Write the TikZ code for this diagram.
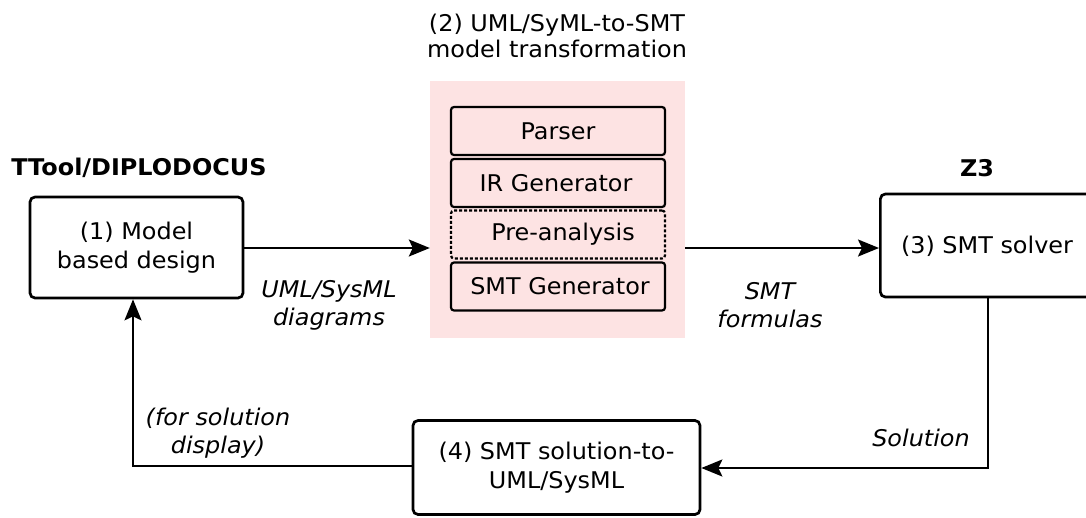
\documentclass[tikz,border=0pt]{standalone}
\usepackage{fontspec}
\setmainfont[FakeStretch=1.04]{DejaVu Sans}
\usetikzlibrary{arrows.meta}
\definecolor{stagepink}{HTML}{FDE3E3}
\tikzset{
  every node/.style={font=\fontsize{23}{28.5}\selectfont, align=center},
  block/.style={draw, line width=2.7pt, rounded corners=5pt, fill=white},
  substep/.style={draw, line width=2.2pt, rounded corners=3pt, fill=stagepink, minimum width=214pt, minimum height=48pt},
  flow/.style={line width=2.2pt, -{Stealth[length=21pt,width=17pt,inset=4pt]}},
  note/.style={font=\fontsize{23}{28}\selectfont\itshape},
  tool/.style={font=\fontsize{23}{28}\selectfont\bfseries}
}
\begin{document}
\begin{tikzpicture}[x=1pt,y=-1pt]
\useasboundingbox (0,0) rectangle (1086,517);

% transformation stage background
\node[fill=stagepink, minimum width=255pt, minimum height=257pt, inner sep=0pt] (stage) at (557.5,209.5) {};
\node[font=\fontsize{23}{26.5}\selectfont] (stagetitle) at (557,36) {(2) UML/SyML-to-SMT\\model transformation};

\node[substep] (parser) at (558,131) {Parser};
\node[substep] (irgen) at (558,183) {IR Generator\hspace*{4pt}};
\node[substep, dashed, dash pattern=on 3pt off 2pt] (pre) at (558,234.5) {\hspace*{10pt}Pre-analysis};
\node[substep] (smtgen) at (558,286.5) {\hspace*{4pt}SMT Generator};

% model side
\node[block, minimum width=213pt, minimum height=101pt] (design) at (136.5,247.5) {(1) Model\\based design};
\node[tool] (ttool) at (139,168) {TTool/DIPLODOCUS};

% solver side
\node[block, minimum width=240pt, minimum height=103pt, anchor=west] (solver) at (879,245.5) {};
\node (solvertext) at (987,246) {(3) SMT solver};
\node[tool] (z3) at (977,168) {Z3};

% back transformation
\node[block, minimum width=287pt, minimum height=94pt] (back) at (556.5,467.5) {(4) SMT solution-to-\\UML/SysML};

% connectors
\draw[flow] (design.east |- 0,248) -- (stage.west |- 0,248);
\draw[flow] (stage.east |- 0,248) -- (solver.west |- 0,248);
\coordinate (solverout) at (988,297);
\coordinate (turnA) at (988,468);
\draw[flow] (solverout) -- (turnA) -- (back.east |- turnA);
\coordinate (turnB) at (133,466);
\draw[flow] (back.west |- turnB) -- (turnB) -- (turnB |- design.south);

% edge labels
\node[note] (lbl1) at (329,305) {UML/SysML\\diagrams};
\node[note] (lbl2) at (770,305) {SMT\\formulas};
\node[note] (lbl3) at (218,433) {(for solution\\display)};
\node[note] (lbl4) at (921,438) {Solution};
\end{tikzpicture}
\end{document}
